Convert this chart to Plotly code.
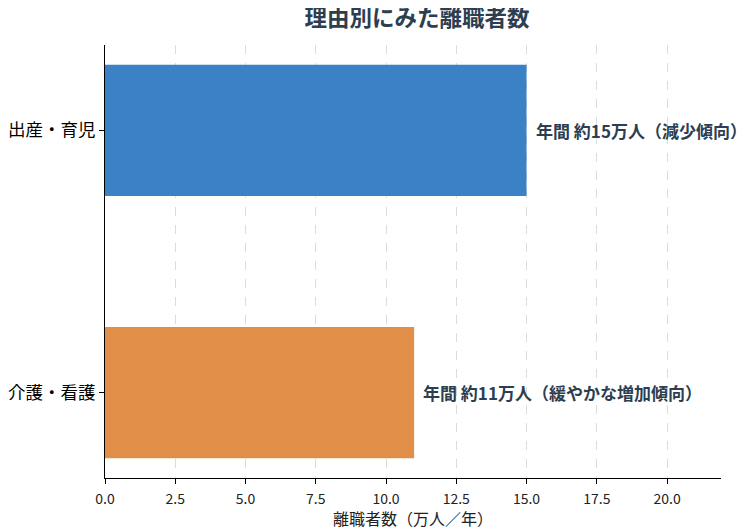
import plotly.graph_objects as go

categories = ["出産・育児", "介護・看護"]
values = [15, 11]
bar_colors = ["#3a82c5", "#e08e48"]
notes = ["年間 約15万人（減少傾向）", "年間 約11万人（緩やかな増加傾向）"]
x_ticks = [0, 2.5, 5, 7.5, 10, 12.5, 15, 17.5, 20]
x_ticklabels = ["0.0", "2.5", "5.0", "7.5", "10.0", "12.5", "15.0", "17.5", "20.0"]

font_name = "Noto Sans CJK JP"
text_col = "#2c3e50"

fig = go.Figure()
fig.add_trace(go.Bar(
    y=categories, x=values, orientation="h",
    marker=dict(color=bar_colors, line=dict(width=0)),
    width=0.5, showlegend=False, hoverinfo="x+y",
))

for cat, v, note in zip(categories, values, notes):
    fig.add_annotation(
        x=v + 0.25, y=cat, text="<b>" + note + "</b>",
        showarrow=False, xanchor="left", yanchor="middle",
        font=dict(family=font_name, size=17, color=text_col),
    )

# page body has an 8px margin, so the figure is a bit smaller
fig.update_layout(
    width=746, height=522,
    margin=dict(l=97, r=33, t=37, b=52),
    paper_bgcolor="white", plot_bgcolor="white",
    font=dict(family=font_name, color="black"),
    title=dict(text="<b>理由別にみた離職者数</b>", x=409 / 746, xanchor="center",
               y=1 - 10 / 522, yanchor="middle",
               font=dict(family=font_name, size=22.5, color=text_col)),
    bargap=0.5,
)
fig.update_xaxes(
    range=[0, 21.92], tickvals=x_ticks, ticktext=x_ticklabels,
    showgrid=True, gridcolor="#dcdcdc", griddash="dash", gridwidth=1,
    showline=True, linecolor="black", linewidth=1.2,
    ticks="outside", ticklen=5, tickcolor="black", ticklabelstandoff=3,
    tickfont=dict(size=14, color="#222"), zeroline=False, automargin=False,
    title=dict(text="離職者数（万人／年）", font=dict(size=16, color="#222"), standoff=2),
)
fig.update_yaxes(
    categoryorder="array", categoryarray=categories[::-1],
    range=[-0.325, 1.325],
    showgrid=False, showline=True, linecolor="black", linewidth=1.2,
    ticks="outside", ticklen=5, tickcolor="black",
    tickfont=dict(size=17.5, color="black"), zeroline=False, automargin=False,
)

fig.write_html("out.html")
